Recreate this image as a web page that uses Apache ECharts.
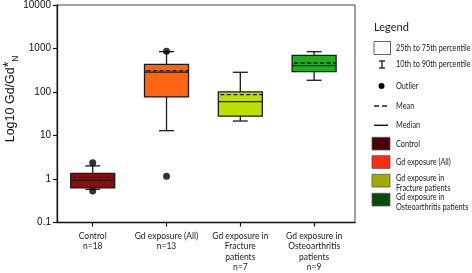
<!DOCTYPE html>
<html><head><meta charset="utf-8">
<script src="https://cdn.jsdelivr.net/npm/echarts@6/dist/echarts.min.js"></script>
<style>html,body{margin:0;padding:0;background:#fff}#c{width:472px;height:273px}</style>
</head><body><div id="c"></div>
<script>
// ---- data ----
const categories = ['Control\nn=18', 'Gd exposure (All)\nn=13', 'Gd exposure in\nFracture\npatients\nn=7', 'Gd exposure in\nOsteoarthritis\npatients\nn=9'];
const p10 = [0.58, 12.9, 21.5, 186];
const p25 = [0.63, 77, 28, 293];
const medians = [0.93, 285, 60, 403];
const p75 = [1.35, 433, 101, 697];
const p90 = [2.0, 846, 284, 845];
const means = [1.09, 310, 87, 464];
const outlierCat = [0, 0, 1, 1];
const outlierVal = [2.35, 0.53, 870, 1.15];
const yTicks = [0.1, 1, 10, 100, 1000, 10000];
const legendLabels = ['25th to 75th percentile', '10th to 90th percentile', 'Outlier', 'Mean', 'Median'];
const groupLegendLabels = ['Control', 'Gd exposure (All)', 'Gd exposure in\nFracture patients', 'Gd exposure in\nOsteoarthritis patients'];
// ---- styles ----
const boxColors = ['#8c0d0d', '#ff6512', '#bde000', '#20ae20'];
const legendColors = ['#4b0008', '#ff2b0d', '#a3ad00', '#0b4a0b'];
const FONT = 'Lato';

const boxData = categories.map((c, i) => [i, p10[i], p25[i], medians[i], p75[i], p90[i], means[i]]);
const outlierData = outlierCat.map((c, i) => [c, outlierVal[i]]);

const chart = echarts.init(document.getElementById('c'), null, {renderer: 'canvas'});

const stroke = '#1a1a1a';
const legendGraphics = [];
const LX = 374, TX = 396, SX = 0.86;
legendGraphics.push({type: 'text', x: LX, y: 27, style: {text: 'Legend', font: '11px ' + FONT, fill: '#222', textVerticalAlign: 'middle'}});
legendGraphics.push({type: 'rect', shape: {x: LX, y: 41.5, width: 16.5, height: 13}, style: {fill: '#fff', stroke: '#666', lineWidth: 1}});
legendGraphics.push({type: 'line', shape: {x1: 382, y1: 61, x2: 382, y2: 68}, style: {stroke: stroke, lineWidth: 1.3}});
legendGraphics.push({type: 'line', shape: {x1: 379, y1: 61, x2: 385, y2: 61}, style: {stroke: stroke, lineWidth: 1.3}});
legendGraphics.push({type: 'line', shape: {x1: 379, y1: 68, x2: 385, y2: 68}, style: {stroke: stroke, lineWidth: 1.3}});
legendGraphics.push({type: 'circle', shape: {cx: 381.5, cy: 86, r: 3}, style: {fill: '#000'}});
legendGraphics.push({type: 'line', shape: {x1: 374, y1: 106, x2: 387, y2: 106}, style: {stroke: stroke, lineWidth: 1.3, lineDash: [5, 3]}});
legendGraphics.push({type: 'line', shape: {x1: 374, y1: 125.3, x2: 388, y2: 125.3}, style: {stroke: stroke, lineWidth: 1.5}});
const topTextY = [48, 64, 86, 106, 125.3];
legendLabels.forEach((t, i) => legendGraphics.push({type: 'text', x: TX, y: topTextY[i], scaleX: SX, style: {text: t, font: '8.5px ' + FONT, fill: '#222', textVerticalAlign: 'middle'}}));
const sqY = [137.3, 155.7, 174.3, 193.3];
groupLegendLabels.forEach((t, i) => {
  legendGraphics.push({type: 'rect', shape: {x: 372, y: sqY[i], width: 18, height: 12.7}, style: {fill: legendColors[i], stroke: '#555', lineWidth: 0.8}});
  legendGraphics.push({type: 'text', x: TX, y: sqY[i] + 6.5 + (t.indexOf('\n') >= 0 ? 2.5 : 0), scaleX: SX, style: {text: t, font: '8.5px ' + FONT, fill: '#222', textVerticalAlign: 'middle', lineHeight: 10.5}});
});

const option = {
  animation: false,
  backgroundColor: '#fff',
  grid: {left: 57, right: 117, top: 5, bottom: 50.5, show: true, borderColor: '#444', borderWidth: 1, backgroundColor: 'transparent', containLabel: false},
  xAxis: {
    type: 'value', min: -0.484, max: 3.554,
    axisLine: {show: true, onZero: false, lineStyle: {color: '#111', width: 1.3}},
    axisTick: {show: true, customValues: [0, 1, 2, 3], length: 4, lineStyle: {color: '#111', width: 1.2}},
    axisLabel: {customValues: [0, 1, 2, 3], formatter: v => categories[Math.round(v)], fontFamily: FONT, fontSize: 8.5, color: '#222', lineHeight: 10.6, margin: 8, verticalAlign: 'top'},
    splitLine: {show: false}
  },
  yAxis: {
    type: 'log', logBase: 10, min: 0.1, max: 10000,
    axisLine: {show: true, onZero: false, lineStyle: {color: '#111', width: 1.3}},
    axisTick: {show: true, length: 4, lineStyle: {color: '#111', width: 1.2}},
    axisLabel: {fontFamily: 'Liberation Sans', fontSize: 10, color: '#111', margin: 6,
      formatter: v => { let best = yTicks[0]; yTicks.forEach(t => { if (Math.abs(Math.log10(t) - Math.log10(v)) < Math.abs(Math.log10(best) - Math.log10(v))) best = t; }); return String(best); }},
    splitLine: {show: false},
    minorTick: {show: false}
  },
  graphic: [
    {type: 'text', x: 11, y: 99, rotation: Math.PI / 2,
      style: {
        text: '{m|Log10 Gd/Gd}{s|*}{n|N}',
        align: 'center', verticalAlign: 'middle',
        rich: {
          m: {fontFamily: 'Liberation Sans', fontSize: 12.5, fill: '#111', lineHeight: 18, verticalAlign: 'middle'},
          s: {fontFamily: 'Liberation Sans', fontSize: 14, fill: '#111', lineHeight: 18, verticalAlign: 'top'},
          n: {fontFamily: 'Liberation Sans', fontSize: 8.5, fill: '#111', lineHeight: 18, verticalAlign: 'bottom'}
        }
      }
    }
  ].concat(legendGraphics),
  series: [
    {
      type: 'custom',
      data: boxData,
      encode: {x: 0, y: [1, 2, 3, 4, 5, 6]},
      renderItem: function (params, api) {
        const i = api.value(0);
        const x = api.coord([i, 1])[0];
        const y = v => api.coord([i, v])[1];
        const yLo = y(api.value(1)), yQ1 = y(api.value(2)), yMed = y(api.value(3)), yQ3 = y(api.value(4)), yHi = y(api.value(5)), yMean = y(api.value(6));
        const bw = 44, cw = 15;
        const ls = {stroke: stroke, lineWidth: 1.3};
        return {type: 'group', children: [
          {type: 'line', shape: {x1: x, y1: yHi, x2: x, y2: yQ3}, style: ls},
          {type: 'line', shape: {x1: x, y1: yQ1, x2: x, y2: yLo}, style: ls},
          {type: 'line', shape: {x1: x - cw / 2, y1: yHi, x2: x + cw / 2, y2: yHi}, style: ls},
          {type: 'line', shape: {x1: x - cw / 2, y1: yLo, x2: x + cw / 2, y2: yLo}, style: ls},
          {type: 'rect', shape: {x: x - bw / 2, y: yQ3, width: bw, height: yQ1 - yQ3}, style: {fill: boxColors[params.dataIndex], stroke: stroke, lineWidth: 1.3}},
          {type: 'line', shape: {x1: x - bw / 2, y1: yMed, x2: x + bw / 2, y2: yMed}, style: {stroke: stroke, lineWidth: 1.3}},
          {type: 'line', shape: {x1: x - bw / 2 + 2, y1: yMean, x2: x + bw / 2, y2: yMean}, style: {stroke: '#111', lineWidth: 1.3, lineDash: [4, 2.5]}}
        ]};
      },
      z: 2
    },
    {
      type: 'scatter',
      data: outlierData,
      symbol: 'circle', symbolSize: 7,
      itemStyle: {color: '#000'},
      z: 3
    }
  ]
};
chart.setOption(option);
</script>
</body></html>
